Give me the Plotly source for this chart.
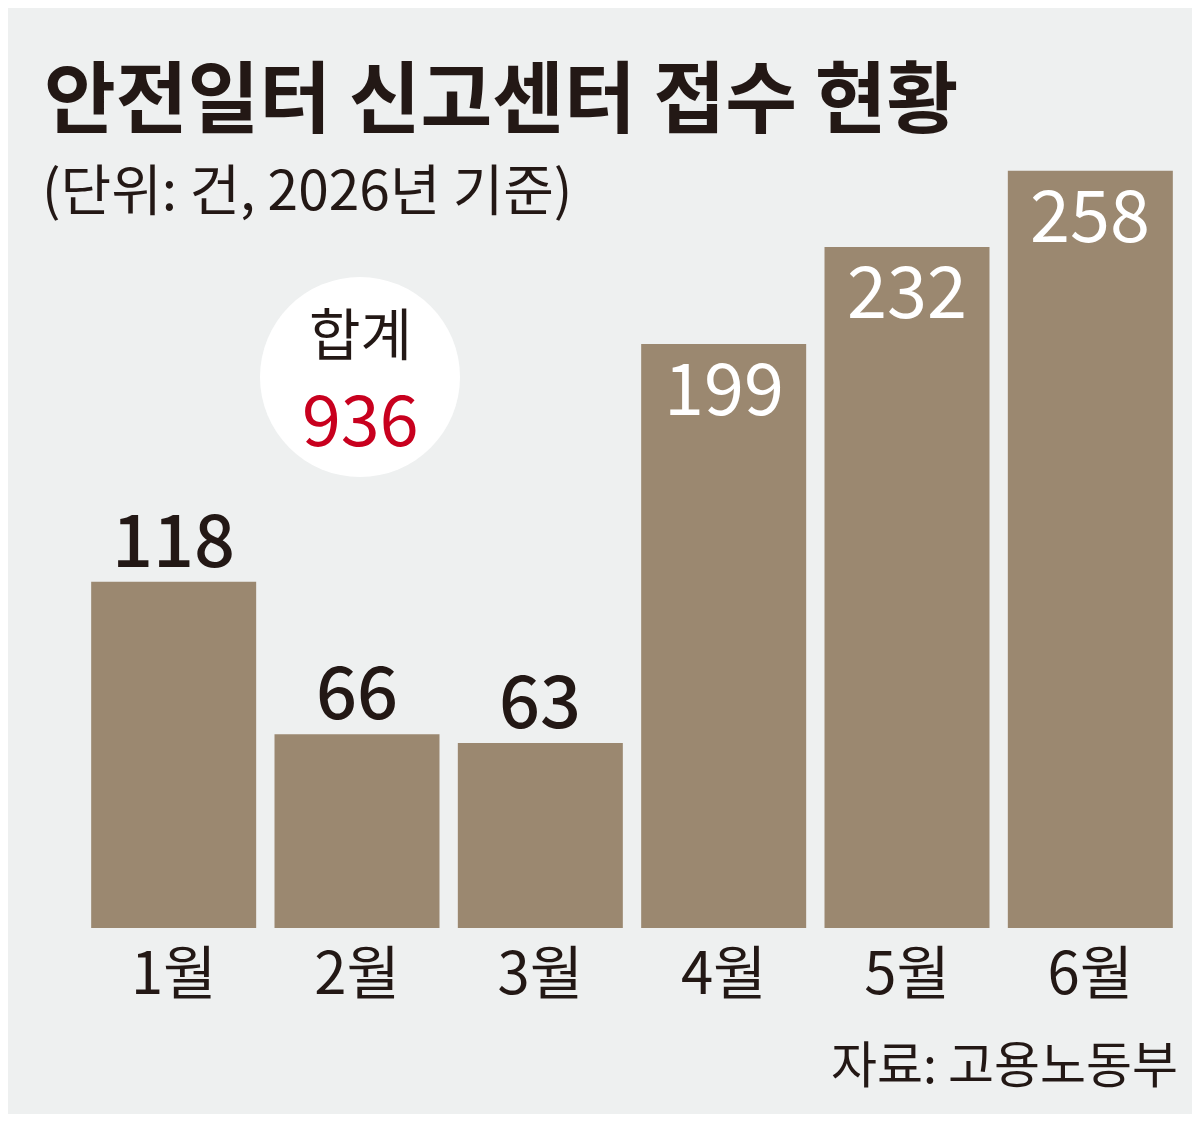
import plotly.graph_objects as go

months = ["1월", "2월", "3월", "4월", "5월", "6월"]
counts = [118, 66, 63, 199, 232, 258]
inside_flags = [False, False, False, True, True, True]
total = 936

title = "안전일터 신고센터 접수 현황"
subtitle = "(단위: 건, 2026년 기준)"
source = "자료: 고용노동부"

# the page body adds an 8px offset; the figure is sized to fit the 1200x1123 window
OFF = 8
W, H = 1200 - OFF, 1123 - OFF
FONT = "Noto Sans CJK KR"
DARK = "#231815"
BAR = "#9b8870"
BG = "#eef0f0"
RED = "#c8001e"


def px(x):
    return (x - OFF) / W


def py(y):
    return 1 - (y - OFF) / H


BASE = 928           # reference pixel row of the zero line
PX_PER_UNIT = 2.935  # reference pixels per count

fig = go.Figure()
fig.add_trace(go.Bar(
    x=months, y=counts,
    marker=dict(color=BAR, line=dict(width=0)),
    hoverinfo="skip",
))

annotations = []
for m, v, inside in zip(months, counts, inside_flags):
    if inside:
        annotations.append(dict(
            x=m, y=v, xref="x", yref="y", text=str(v), showarrow=False,
            yanchor="top", yshift=15,
            font=dict(family=FONT, size=72, color="white"),
        ))
    else:
        annotations.append(dict(
            x=m, y=v, xref="x", yref="y", text=str(v), showarrow=False,
            yanchor="bottom", yshift=-8,
            font=dict(family=FONT, size=72, color=DARK, weight=500),
        ))

annotations += [
    dict(x=px(42), y=py(93), xref="paper", yref="paper", xanchor="left", yanchor="middle",
         text=f"<b>{title}</b>", showarrow=False, font=dict(family=FONT, size=78, color=DARK)),
    dict(x=px(40), y=py(186), xref="paper", yref="paper", xanchor="left", yanchor="middle",
         text=subtitle, showarrow=False, font=dict(family=FONT, size=55, color=DARK)),
    dict(x=px(1180), y=py(1061), xref="paper", yref="paper", xanchor="right", yanchor="middle",
         text=source, showarrow=False, font=dict(family=FONT, size=50, color=DARK)),
    dict(x=px(360), y=py(330), xref="paper", yref="paper", xanchor="center", yanchor="middle",
         text="합계", showarrow=False, font=dict(family=FONT, size=56, color=DARK)),
    dict(x=px(360), y=py(415), xref="paper", yref="paper", xanchor="center", yanchor="middle",
         text=str(total), showarrow=False, font=dict(family=FONT, size=70, color=RED)),
]

shapes = [
    dict(type="rect", xref="paper", yref="paper", x0=0, x1=1, y0=py(1114), y1=1,
         fillcolor=BG, line=dict(width=0), layer="below"),
    dict(type="circle", xref="paper", yref="paper", x0=px(260), x1=px(460),
         y0=py(477), y1=py(277), fillcolor="white", line=dict(width=0), layer="below"),
]

fig.update_layout(
    width=W, height=H,
    margin=dict(l=0, r=0, t=0, b=0),
    paper_bgcolor="white", plot_bgcolor="rgba(0,0,0,0)",
    showlegend=False, bargap=0.1,
    annotations=annotations, shapes=shapes,
    xaxis=dict(domain=[px(82), px(1182)], showgrid=False, zeroline=False, showline=False,
               ticks="", ticklabelstandoff=7,
               tickfont=dict(family=FONT, size=58, color=DARK), fixedrange=True),
    yaxis=dict(domain=[1 - (BASE - OFF) / H, 1], range=[0, (BASE - OFF) / PX_PER_UNIT],
               visible=False, fixedrange=True),
)

fig.write_html("out.html", config={"displayModeBar": False})
